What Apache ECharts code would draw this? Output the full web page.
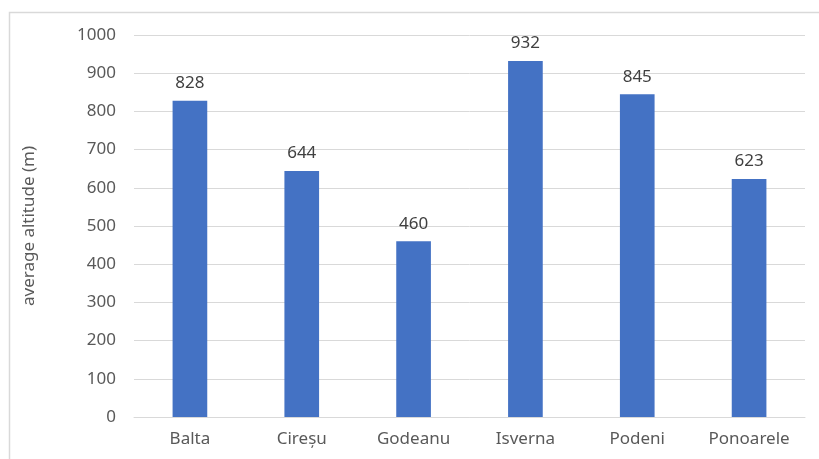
<!DOCTYPE html>
<html>
<head>
<meta charset="utf-8">
<script src="https://cdn.jsdelivr.net/npm/echarts@6/dist/echarts.min.js"></script>
<style>
html,body{margin:0;padding:0;background:#fff;}
#c{width:819px;height:459px;}
</style>
</head>
<body>
<div id="c"></div>
<script>
const categories = ['Balta', 'Cireșu', 'Godeanu', 'Isverna', 'Podeni', 'Ponoarele'];
const altitudes = [828, 644, 460, 932, 845, 623];
const yTicks = { min: 0, max: 1000, interval: 100 };
const yAxisTitle = 'average altitude (m)';

const font = '"Noto Sans", "Liberation Sans", sans-serif';
const chart = echarts.init(document.getElementById('c'), null, { renderer: 'canvas' });
chart.setOption({
  animation: false,
  backgroundColor: '#ffffff',
  graphic: [{
    type: 'rect',
    shape: { x: 9.5, y: 12.5, width: 830, height: 470 },
    style: { fill: 'none', stroke: '#d9d9d9', lineWidth: 1.5 },
    silent: true
  }],
  grid: { left: 134, right: 14, top: 35, bottom: 42, containLabel: false },
  xAxis: {
    type: 'category',
    data: categories,
    axisLine: { lineStyle: { color: '#d9d9d9', width: 1 } },
    axisTick: { show: false },
    axisLabel: { color: '#595959', fontSize: 17, fontFamily: font, margin: 14 }
  },
  yAxis: {
    type: 'value',
    min: yTicks.min, max: yTicks.max, interval: yTicks.interval,
    name: yAxisTitle,
    nameLocation: 'middle',
    nameGap: 96,
    nameTextStyle: { color: '#595959', fontSize: 17, fontFamily: font },
    axisLine: { show: false },
    axisTick: { show: false },
    splitLine: { lineStyle: { color: '#d9d9d9', width: 1 } },
    axisLabel: { color: '#595959', fontSize: 17, fontFamily: font, margin: 18, formatter: v => String(v) }
  },
  series: [{
    type: 'bar',
    data: altitudes,
    barWidth: '31%',
    itemStyle: { color: '#4472C4' },
    label: { show: true, position: 'top', distance: 9, color: '#404040', fontSize: 17, fontFamily: font }
  }]
});
</script>
</body>
</html>
